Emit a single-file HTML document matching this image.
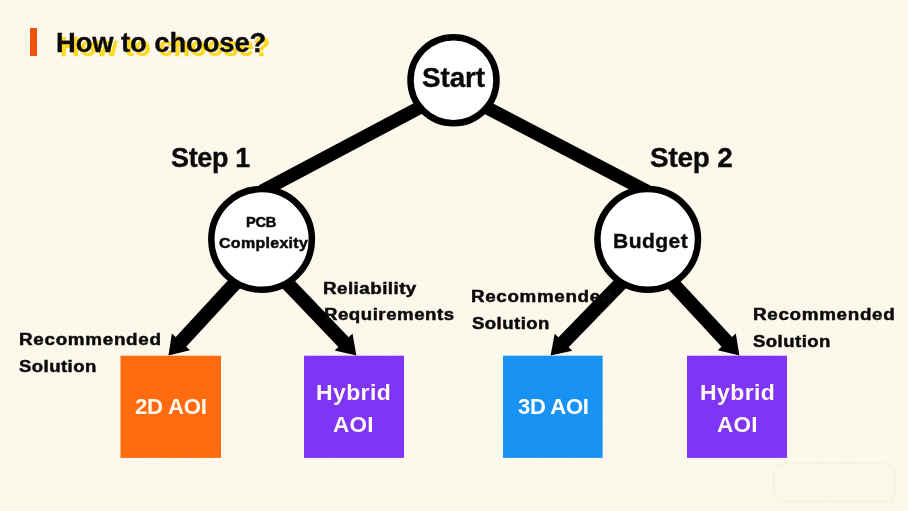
<!DOCTYPE html>
<html><head><meta charset="utf-8">
<style>
html,body{margin:0;padding:0;}
body{width:908px;height:511px;overflow:hidden;background:#fdfaed;position:relative;font-family:"Liberation Sans",sans-serif;font-weight:bold;color:#0a0a0a;}
svg{position:absolute;left:0;top:0;}
.t{position:absolute;white-space:nowrap;line-height:1;transform-origin:0 0;}
</style></head>
<body>
<svg class="noise" width="908" height="511" style="position:absolute;left:0;top:0">
  <filter id="nz" x="0" y="0" width="100%" height="100%">
    <feTurbulence type="fractalNoise" baseFrequency="0.9" numOctaves="2" seed="3"/>
    <feColorMatrix values="0 0 0 0 0.55  0 0 0 0 0.45  0 0 0 0 0.35  0 0 0 -2.2 1.25"/>
  </filter>
  <rect width="908" height="511" filter="url(#nz)" opacity="0.10"/>
  <rect x="773.5" y="463.5" width="122" height="38" rx="12" fill="none" stroke="#000" stroke-opacity="0.025" stroke-width="2"/>
</svg>
<svg width="908" height="511" viewBox="0 0 908 511">
  <rect x="30" y="28" width="7" height="28" fill="#f2520c"/>
  <!-- upper lines -->
  <line x1="262" y1="191.12" x2="453.5" y2="89.72" stroke="#000" stroke-width="13.3"/>
  <line x1="453.5" y1="90.31" x2="647.7" y2="191.68" stroke="#000" stroke-width="13.3"/>
  <!--ARROWS-->
  <g fill="#000">
  <line x1="270.1" y1="245.2" x2="179.6" y2="343.4" stroke="#000" stroke-width="14.2"/>
  <polygon points="168.4,355.5 171.9,333.6 190.0,350.2"/>
  <line x1="252.7" y1="247.1" x2="345.0" y2="343.6" stroke="#000" stroke-width="14.2"/>
  <polygon points="356.4,355.5 334.7,350.6 352.5,333.6"/>
  <line x1="655.1" y1="247.9" x2="562.1" y2="343.7" stroke="#000" stroke-width="14.2"/>
  <polygon points="550.6,355.5 554.7,333.7 572.3,350.8"/>
  <line x1="637.4" y1="245.5" x2="728.2" y2="343.4" stroke="#000" stroke-width="14.2"/>
  <polygon points="739.4,355.5 717.8,350.3 735.8,333.6"/>
  </g>
  <!--/ARROWS-->
  <!-- circles -->
  <circle cx="453.5" cy="80.2" r="43" fill="#fff" stroke="#000" stroke-width="6.5"/>
  <circle cx="261.6" cy="239.4" r="50.3" fill="#fff" stroke="#000" stroke-width="6.5"/>
  <circle cx="647.7" cy="239.4" r="50.3" fill="#fff" stroke="#000" stroke-width="6.5"/>
  <!-- boxes -->
  <rect x="120.5" y="355.7" width="100.5" height="102.2" fill="#ff6c10"/>
  <rect x="304" y="355.7" width="100" height="102.2" fill="#7f35f5"/>
  <rect x="503" y="355.7" width="99.6" height="102.2" fill="#1893f3"/>
  <rect x="687" y="355.7" width="100" height="102.2" fill="#7f35f5"/>
</svg>
<div class="t sh" style="left:60.09px;top:33.25px;font-size:27.5px;color:#ffd91f;letter-spacing:-0.062px;-webkit-text-stroke:0.35px #ffd91f;transform:scaleX(0.994)">How to choose?</div>
<div class="t" style="left:56.09px;top:29.25px;font-size:27.5px;color:#0a0a0a;letter-spacing:-0.062px;-webkit-text-stroke:0.35px #0a0a0a;transform:scaleX(0.994)">How to choose?</div>
<div class="t" style="left:170.79px;top:143.95px;font-size:27.8px;color:#0a0a0a;letter-spacing:-0.341px;-webkit-text-stroke:0.35px #0a0a0a;transform:scaleX(0.970)">Step 1</div>
<div class="t" style="left:649.66px;top:142.55px;font-size:28.4px;color:#0a0a0a;letter-spacing:-0.188px;-webkit-text-stroke:0.35px #0a0a0a;transform:scaleX(0.983)">Step 2</div>
<div class="t" style="left:422.16px;top:63.55px;font-size:28.1px;color:#0a0a0a;letter-spacing:-0.095px;-webkit-text-stroke:0.35px #0a0a0a;transform:scaleX(0.991)">Start</div>
<div class="t" style="left:245.87px;top:213.85px;font-size:15.1px;color:#0a0a0a;letter-spacing:-0.309px;-webkit-text-stroke:0.5px #0a0a0a;transform:scaleX(0.970)">PCB</div>
<div class="t" style="left:218.76px;top:235.25px;font-size:15.2px;color:#0a0a0a;letter-spacing:0.293px;-webkit-text-stroke:0.5px #0a0a0a;transform:scaleX(1.051)">Complexity</div>
<div class="t" style="left:612.63px;top:231.15px;font-size:20.1px;color:#0a0a0a;letter-spacing:0.410px;-webkit-text-stroke:0.35px #0a0a0a;transform:scaleX(1.048)">Budget</div>
<div class="t" style="left:322.78px;top:279.85px;font-size:17.4px;color:#0a0a0a;letter-spacing:0.410px;-webkit-text-stroke:0.5px #0a0a0a;transform:scaleX(1.082)">Reliability</div>
<div class="t" style="left:323.59px;top:306.25px;font-size:17.4px;color:#0a0a0a;letter-spacing:0.473px;-webkit-text-stroke:0.5px #0a0a0a;transform:scaleX(1.073)">Requirements</div>
<div class="t" style="left:18.58px;top:331.35px;font-size:17.4px;color:#0a0a0a;letter-spacing:0.634px;-webkit-text-stroke:0.5px #0a0a0a;transform:scaleX(1.084)">Recommended</div>
<div class="t" style="left:19.34px;top:358.05px;font-size:17.4px;color:#0a0a0a;letter-spacing:0.410px;-webkit-text-stroke:0.5px #0a0a0a;transform:scaleX(1.068)">Solution</div>
<div class="t" style="left:471.28px;top:288.45px;font-size:17.4px;color:#0a0a0a;letter-spacing:0.610px;-webkit-text-stroke:0.5px #0a0a0a;transform:scaleX(1.081)">Recommended</div>
<div class="t" style="left:472.04px;top:315.25px;font-size:17.4px;color:#0a0a0a;letter-spacing:0.415px;-webkit-text-stroke:0.5px #0a0a0a;transform:scaleX(1.068)">Solution</div>
<div class="t" style="left:752.58px;top:306.45px;font-size:17.4px;color:#0a0a0a;letter-spacing:0.624px;-webkit-text-stroke:0.5px #0a0a0a;transform:scaleX(1.083)">Recommended</div>
<div class="t" style="left:753.34px;top:332.65px;font-size:17.4px;color:#0a0a0a;letter-spacing:0.415px;-webkit-text-stroke:0.5px #0a0a0a;transform:scaleX(1.068)">Solution</div>
<div class="t" style="left:134.83px;top:395.05px;font-size:22.9px;color:#fff8ee;letter-spacing:-0.295px;-webkit-text-stroke:0.0px #fff8ee;transform:scaleX(0.971)">2D AOI</div>
<div class="t" style="left:315.99px;top:382.45px;font-size:22.0px;color:#fff8ee;letter-spacing:0.378px;-webkit-text-stroke:0.0px #fff8ee;transform:scaleX(1.044)">Hybrid</div>
<div class="t" style="left:333.42px;top:413.55px;font-size:22.2px;color:#fff8ee;letter-spacing:0.178px;-webkit-text-stroke:0.0px #fff8ee;transform:scaleX(1.015)">AOI</div>
<div class="t" style="left:517.96px;top:395.05px;font-size:22.9px;color:#ffffff;letter-spacing:-0.383px;-webkit-text-stroke:0.0px #ffffff;transform:scaleX(0.962)">3D AOI</div>
<div class="t" style="left:699.59px;top:382.45px;font-size:22.0px;color:#fff8ee;letter-spacing:0.386px;-webkit-text-stroke:0.0px #fff8ee;transform:scaleX(1.045)">Hybrid</div>
<div class="t" style="left:717.32px;top:413.55px;font-size:22.2px;color:#fff8ee;letter-spacing:0.178px;-webkit-text-stroke:0.0px #fff8ee;transform:scaleX(1.015)">AOI</div>
</body></html>
